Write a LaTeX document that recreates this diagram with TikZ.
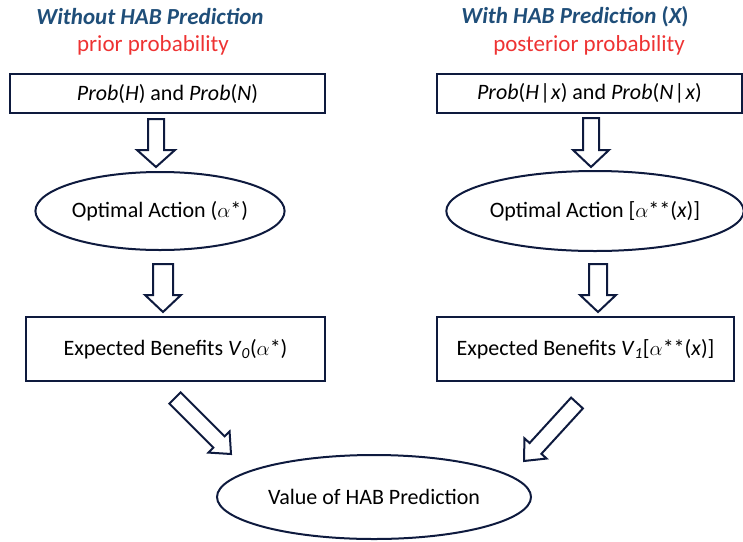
\documentclass[tikz,border=0pt]{standalone}
\usepackage{fontspec}
\setmainfont{Carlito}
\usetikzlibrary{shapes.geometric,calc}
\definecolor{navy}{HTML}{0E1A3E}
\definecolor{ttlblue}{HTML}{1F4E79}
\definecolor{probred}{HTML}{EE3333}
\tikzset{
  rbox/.style={draw=navy, line width=2.5pt, rectangle, inner sep=0pt, font=\fontsize{22}{26}\selectfont},
  ebox/.style={draw=navy, line width=2pt, ellipse, inner sep=0pt, font=\fontsize{22}{26}\selectfont},
  ttl/.style={text=ttlblue, font=\fontsize{23}{27}\selectfont\bfseries\itshape, inner sep=0pt},
  sub/.style={text=probred, font=\fontsize{23}{27}\selectfont, inner sep=0pt},
  barr/.style={draw=navy, line width=2pt, fill=white, line join=miter}
}
% #1 from, #2 to, #3 shaft half width, #4 head half width, #5 head length
\newcommand{\blockarr}[5]{%
  \draw[barr] let \p1=(#1), \p2=(#2), \n1={atan2(\y2-\y1,\x2-\x1)}, \n2={veclen(\x2-\x1,\y2-\y1)} in
    [shift={(\p1)}, rotate=\n1]
    (0,-#3) -- (\n2-#5,-#3) -- (\n2-#5,-#4) -- (\n2,0) -- (\n2-#5,#4) -- (\n2-#5,#3) -- (0,#3) -- cycle;}
\begin{document}
\begin{tikzpicture}[x=1pt,y=-1pt]
\useasboundingbox (0,0) rectangle (743,541);
% titles
\node[ttl] (t0) at (150,17) {Without HAB Prediction};
\node[sub] (s0) at (153,45) {prior probability};
\node[ttl] (t1) at (575,17) {With HAB Prediction {\upshape(}X{\upshape)}};
\node[sub] (s1) at (589,45) {posterior probability};
% left column
\node[rbox, minimum width=315pt, minimum height=39pt] (p0) at (167.5,93.5)
  {\textit{Prob}(\textit{H}) and \textit{Prob}(\textit{N})};
\node[ebox, minimum width=238pt, minimum height=78pt] (o0) at (160,211)
  {Optimal Action ($\alpha$*)};
\node[rbox, minimum width=299pt, minimum height=64pt] (v0) at (175.5,349)
  {Expected Benefits \textit{V}\textsubscript{\textit{0}}($\alpha$*)};
% right column
\node[rbox, minimum width=305pt, minimum height=39pt] (p1) at (589.5,93.5)
  {\textit{Prob}(\textit{H}\kern1pt|\kern1pt\textit{x}) and \textit{Prob}(\textit{N}\kern1pt|\kern1pt\textit{x})};
\node[ebox, minimum width=252pt, minimum height=80pt] (o1) at (595,211)
  {Optimal Action [$\alpha$**(\textit{x})]};
\node[rbox, minimum width=297pt, minimum height=64pt] (v1) at (585.5,349)
  {Expected Benefits \textit{V}\textsubscript{\textit{1}}[$\alpha$**(\textit{x})]};
% bottom
\node[ebox, minimum width=314pt, minimum height=84pt] (val) at (374,497)
  {Value of HAB Prediction};
% arrow end points
\coordinate (a1s) at (156,119); \coordinate (a1e) at (156,167);
\coordinate (b1s) at (591,118); \coordinate (b1e) at (591,167);
\coordinate (a2s) at (163,264); \coordinate (a2e) at (163,312);
\coordinate (b2s) at (598,264); \coordinate (b2e) at (598,312);
\coordinate (a3s) at (175,398); \coordinate (a3e) at (231,454);
\coordinate (b3s) at (577,403); \coordinate (b3e) at (524,461);
\blockarr{a1s}{a1e}{8}{19}{17}
\blockarr{b1s}{b1e}{8}{18}{17}
\blockarr{a2s}{a2e}{10}{18}{17}
\blockarr{b2s}{b2e}{9}{18}{17}
\blockarr{a3s}{a3e}{8}{15}{17}
\blockarr{b3s}{b3e}{8}{15}{17}
\end{tikzpicture}
\end{document}
